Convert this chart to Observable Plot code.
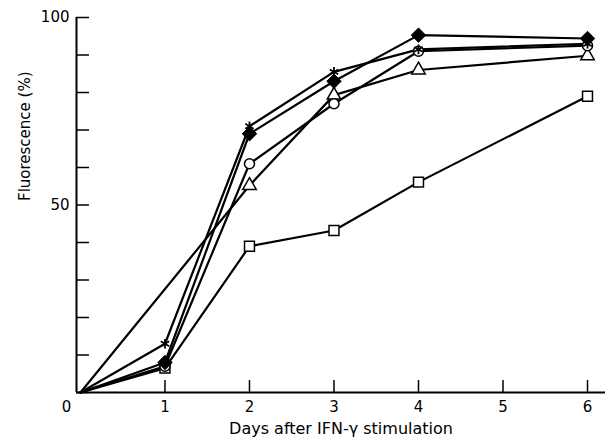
<!DOCTYPE html>
<html><head><meta charset="utf-8">
<script src="https://cdn.jsdelivr.net/npm/d3@7"></script>
<script src="https://cdn.jsdelivr.net/npm/@observablehq/plot@0.6"></script>
<style>body{margin:0;background:#fff}</style>
</head><body><div id="chart"></div>
<script>
const xTicks = [1, 2, 3, 4, 5, 6];
const originLabel = [0];
const yTicks = [0, 10, 20, 30, 40, 50, 60, 70, 80, 90, 100];
const yLabels = [50, 100];
const xTitle = "Days after IFN-γ stimulation";
const yTitle = "Fluorescence (%)";

const starDays = [0, 1, 2, 3, 4, 6];
const starValues = [0, 13, 71, 85.5, 91.5, 93];
const diamondDays = [0, 1, 2, 3, 4, 6];
const diamondValues = [0, 8, 69, 83, 95.3, 94.4];
const circleDays = [0, 1, 2, 3, 4, 6];
const circleValues = [0, 7, 61, 77, 91, 92.5];
const triangleDays = [0, 2, 3, 4, 6];
const triangleValues = [0, 55.2, 79.3, 86, 89.8];
const squareDays = [0, 1, 2, 3, 4, 6];
const squareValues = [0, 6.5, 39, 43.2, 56.1, 79];

const xDomain = [-0.047, 6.213];

const series = [
  {name: "square", days: squareDays, values: squareValues},
  {name: "triangle", days: triangleDays, values: triangleValues},
  {name: "circle", days: circleDays, values: circleValues},
  {name: "diamond", days: diamondDays, values: diamondValues},
  {name: "star", days: starDays, values: starValues}
];
const rows = series.flatMap(s => s.days.map((d, i) => ({series: s.name, day: d, value: s.values[i]})));
const pts = rows.filter(r => r.day > 0);
const of = n => pts.filter(r => r.series === n);

const chart = Plot.plot({
  width: 605, height: 442,
  marginLeft: 76, marginRight: 0, marginTop: 17, marginBottom: 50,
  x: {domain: xDomain},
  y: {domain: [0, 100]},
  style: {fontFamily: "DejaVu Sans", fontSize: "15px", color: "black", background: "white"},
  marks: [
    Plot.axisY({ticks: yTicks, tickSize: -13, text: null, label: null, strokeWidth: 1.5}),
    Plot.axisY({ticks: yLabels, tickSize: 0, tickPadding: 7, label: null, fontSize: 15}),
    Plot.axisX({ticks: xTicks, tickSize: -12, text: null, label: null, strokeWidth: 1.5}),
    Plot.axisX({ticks: xTicks, tickSize: 0, tickPadding: 9, label: null, fontSize: 15, tickFormat: d => String(d)}),
    Plot.text(originLabel, {x: d => d, y: d => d, text: d => String(d), dx: -14, dy: 15, fontSize: 15}),
    Plot.ruleY([0], {strokeWidth: 2.2}),
    Plot.ruleX([xDomain[0]], {strokeWidth: 2}),
    Plot.line(rows, {x: "day", y: "value", z: "series", stroke: "black", strokeWidth: 2.2}),
    Plot.dot(of("square"), {x: "day", y: "value", symbol: "square", r: 5.6, fill: "white", stroke: "black", strokeWidth: 1.5}),
    Plot.dot(of("triangle"), {x: "day", y: "value", symbol: "triangle", r: 5, fill: "white", stroke: "black", strokeWidth: 1.5}),
    Plot.dot(of("circle"), {x: "day", y: "value", symbol: "circle", r: 5, fill: "white", stroke: "black", strokeWidth: 1.5}),
    Plot.dot(of("diamond"), {x: "day", y: "value", symbol: "diamond2", r: 6.5, fill: "black", stroke: "black", strokeWidth: 1}),
    Plot.dot(of("star"), {x: "day", y: "value", symbol: "asterisk", r: 4.6, stroke: "black", strokeWidth: 1.8}),
    Plot.text([xTitle], {frameAnchor: "bottom", dy: 41, fontSize: 16}),
    Plot.text([yTitle], {frameAnchor: "left", rotate: -90, dx: -51, dy: -4, fontSize: 15})
  ]
});
document.getElementById("chart").appendChild(chart);
</script>
</body></html>
